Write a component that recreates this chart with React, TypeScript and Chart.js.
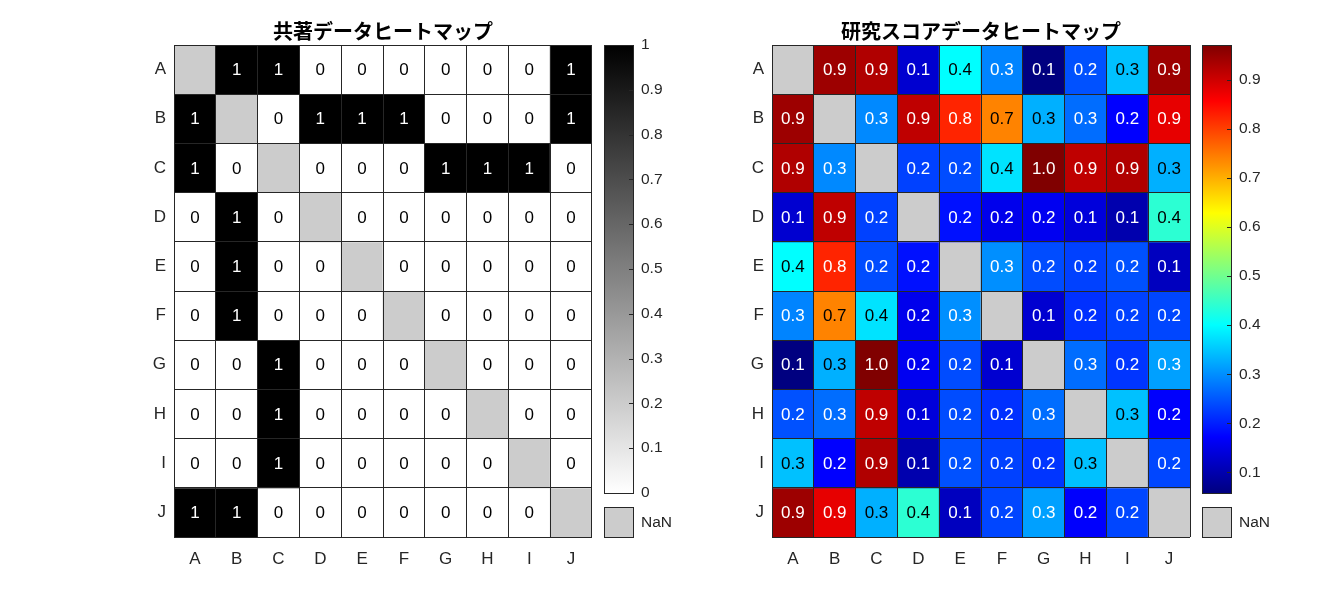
import React, { useEffect, useRef } from "react";
import { Chart, registerables } from "chart.js";

Chart.register(...registerables);

// ---------------- data ----------------
const categories = ["A", "B", "C", "D", "E", "F", "G", "H", "I", "J"];

const coauthorTitle = "共著データヒートマップ";
const coauthorRows: (number | null)[][] = [
  [null, 1, 1, 0, 0, 0, 0, 0, 0, 1],
  [1, null, 0, 1, 1, 1, 0, 0, 0, 1],
  [1, 0, null, 0, 0, 0, 1, 1, 1, 0],
  [0, 1, 0, null, 0, 0, 0, 0, 0, 0],
  [0, 1, 0, 0, null, 0, 0, 0, 0, 0],
  [0, 1, 0, 0, 0, null, 0, 0, 0, 0],
  [0, 0, 1, 0, 0, 0, null, 0, 0, 0],
  [0, 0, 1, 0, 0, 0, 0, null, 0, 0],
  [0, 0, 1, 0, 0, 0, 0, 0, null, 0],
  [1, 1, 0, 0, 0, 0, 0, 0, 0, null],
];
const coauthorTicks = [0, 0.1, 0.2, 0.3, 0.4, 0.5, 0.6, 0.7, 0.8, 0.9, 1];
const coauthorTickLabels = ["0", "0.1", "0.2", "0.3", "0.4", "0.5", "0.6", "0.7", "0.8", "0.9", "1"];

const scoreTitle = "研究スコアデータヒートマップ";
const scoreRows: (number | null)[][] = [
  [null, 0.945, 0.928, 0.13, 0.4, 0.29, 0.058, 0.245, 0.345, 0.945],
  [0.945, null, 0.295, 0.914, 0.825, 0.74, 0.33, 0.27, 0.172, 0.878],
  [0.928, 0.295, null, 0.23, 0.24, 0.375, 0.971, 0.914, 0.928, 0.33],
  [0.13, 0.914, 0.23, null, 0.186, 0.155, 0.16, 0.14, 0.1, 0.44],
  [0.4, 0.825, 0.24, 0.186, null, 0.3, 0.24, 0.23, 0.245, 0.115],
  [0.29, 0.74, 0.375, 0.155, 0.3, null, 0.13, 0.215, 0.23, 0.235],
  [0.058, 0.33, 0.971, 0.16, 0.24, 0.13, null, 0.27, 0.22, 0.315],
  [0.245, 0.27, 0.914, 0.14, 0.24, 0.215, 0.27, null, 0.345, 0.17],
  [0.345, 0.172, 0.928, 0.1, 0.245, 0.23, 0.22, 0.345, null, 0.235],
  [0.945, 0.878, 0.33, 0.44, 0.115, 0.235, 0.315, 0.17, 0.235, null],
];
const scoreTicks = [0.1, 0.2, 0.3, 0.4, 0.5, 0.6, 0.7, 0.8, 0.9];
const scoreTickLabels = ["0.1", "0.2", "0.3", "0.4", "0.5", "0.6", "0.7", "0.8", "0.9"];

// ---------------- style ----------------
const W = 1341;
const H = 603;
const PLOT_TOP = 45;
const PLOT_BOTTOM = 537;
const CB_BOTTOM = 493;
const NAN_TOP = 507;
const AXIS_W = 60;
const AXIS_H = 40;
const GRID = "#262626";
const TEXT = "#262626";
const NAN_COLOR = "#cccccc";
const FONT = "'Liberation Sans', Arial, Helvetica, sans-serif";
const TITLE_FONT = "'Noto Sans CJK JP', 'Noto Sans CJK SC', sans-serif";

type RGB = [number, number, number];

const clamp = (v: number) => Math.max(0, Math.min(1, v));
function jet(t: number): RGB {
  const r = clamp(Math.min(4 * t - 1.5, -4 * t + 4.5));
  const g = clamp(Math.min(4 * t - 0.5, -4 * t + 3.5));
  const b = clamp(Math.min(4 * t + 0.5, -4 * t + 2.5));
  return [r, g, b];
}
function grayRev(t: number): RGB {
  const v = 1 - clamp(t);
  return [v, v, v];
}
const css = (c: RGB) =>
  `rgb(${Math.round(c[0] * 255)},${Math.round(c[1] * 255)},${Math.round(c[2] * 255)})`;
const lum = (c: RGB) => 0.299 * c[0] + 0.587 * c[1] + 0.114 * c[2];

type PanelProps = {
  title: string;
  rows: (number | null)[][];
  cmap: (t: number) => RGB;
  vmin: number;
  vmax: number;
  fmt: (v: number) => string;
  plotLeft: number;
  plotRight: number;
  cbLeft: number;
  cbRight: number;
  ticks: number[];
  tickLabels: string[];
};

function HeatmapPanel(p: PanelProps) {
  const heatRef = useRef<HTMLCanvasElement>(null);
  const cbRef = useRef<HTMLCanvasElement>(null);

  useEffect(() => {
    const n = categories.length;
    const norm = (v: number) => (v - p.vmin) / (p.vmax - p.vmin);

    const datasets = p.rows.map((row, r) => ({
      label: categories[r],
      data: row.map(() => [r, r + 1]),
      backgroundColor: row.map((v) => (v === null ? NAN_COLOR : css(p.cmap(norm(v))))),
      borderWidth: 0,
      barPercentage: 1,
      categoryPercentage: 1,
      grouped: false,
    }));

    const textPlugin = {
      id: "heatText",
      afterDraw(chart: any) {
        const { ctx, chartArea, scales } = chart;
        const xs = scales.x;
        const ys = scales.y;
        ctx.save();
        ctx.font = `17px ${FONT}`;
        ctx.textAlign = "center";
        ctx.textBaseline = "middle";
        p.rows.forEach((row, r) =>
          row.forEach((v, c) => {
            if (v === null) return;
            const col = p.cmap(norm(v));
            ctx.fillStyle = lum(col) > 0.5 ? "#000000" : "#ffffff";
            ctx.fillText(p.fmt(v), xs.getPixelForValue(c), ys.getPixelForValue(r + 0.5) + 1);
          })
        );
        ctx.font = `bold 20px ${TITLE_FONT}`;
        ctx.fillStyle = "#000000";
        ctx.fillText(p.title, (chartArea.left + chartArea.right) / 2, 31);
        ctx.restore();
      },
    };

    const heat = new Chart(heatRef.current as HTMLCanvasElement, {
      type: "bar",
      data: { labels: categories, datasets: datasets as any },
      options: {
        responsive: false,
        animation: false,
        events: [],
        layout: {
          padding: {
            left: p.plotLeft - AXIS_W,
            right: W - p.plotRight,
            top: PLOT_TOP,
            bottom: H - PLOT_BOTTOM - AXIS_H,
          },
        },
        plugins: { legend: { display: false }, tooltip: { enabled: false }, title: { display: false } },
        scales: {
          x: {
            type: "category",
            offset: true,
            grid: { offset: true, color: GRID, lineWidth: 1, z: 1, drawTicks: false },
            border: { display: false },
            ticks: { font: { family: FONT, size: 17 }, color: TEXT, padding: 12, autoSkip: false, maxRotation: 0 },
            afterFit: (s: any) => {
              s.height = AXIS_H;
            },
          },
          y: {
            type: "linear",
            reverse: true,
            min: 0,
            max: n,
            ticks: { stepSize: 1, display: false },
            grid: { color: GRID, lineWidth: 1, z: 1, drawTicks: false },
            border: { display: false },
            afterFit: (s: any) => {
              s.width = 0;
            },
          },
          yl: {
            type: "category",
            labels: categories,
            position: "left",
            offset: true,
            grid: { display: false, drawTicks: false },
            border: { display: false },
            ticks: { font: { family: FONT, size: 17 }, color: TEXT, padding: 8, autoSkip: false },
            afterFit: (s: any) => {
              s.width = AXIS_W;
            },
          },
        } as any,
      },
      plugins: [textPlugin],
    });

    const gradient = (chart: any) => {
      const area = chart.chartArea;
      if (!area) return NAN_COLOR;
      const g = chart.ctx.createLinearGradient(0, area.bottom, 0, area.top);
      const steps = 64;
      for (let i = 0; i <= steps; i++) g.addColorStop(i / steps, css(p.cmap(i / steps)));
      return g;
    };

    const cbPlugin = {
      id: "cbExtras",
      afterDraw(chart: any) {
        const { ctx, chartArea, scales } = chart;
        const ys = scales.y;
        ctx.save();
        ctx.strokeStyle = GRID;
        ctx.lineWidth = 1;
        p.ticks.forEach((v) => {
          const y = Math.round(ys.getPixelForValue(v)) + 0.5;
          ctx.beginPath();
          ctx.moveTo(chartArea.right - 5, y);
          ctx.lineTo(chartArea.right, y);
          ctx.stroke();
        });
        ctx.strokeRect(
          Math.round(chartArea.left) + 0.5,
          Math.round(chartArea.top) + 0.5,
          Math.round(chartArea.right - chartArea.left) - 1,
          Math.round(chartArea.bottom - chartArea.top)
        );
        const nanH = PLOT_BOTTOM - NAN_TOP;
        ctx.fillStyle = NAN_COLOR;
        ctx.fillRect(chartArea.left, NAN_TOP, chartArea.right - chartArea.left, nanH);
        ctx.strokeRect(
          Math.round(chartArea.left) + 0.5,
          NAN_TOP + 0.5,
          Math.round(chartArea.right - chartArea.left) - 1,
          nanH
        );
        ctx.fillStyle = TEXT;
        ctx.font = `15.5px ${FONT}`;
        ctx.textAlign = "left";
        ctx.textBaseline = "middle";
        ctx.fillText("NaN", chartArea.right + 7, NAN_TOP + nanH / 2 + 1);
        ctx.restore();
      },
    };

    const cb = new Chart(cbRef.current as HTMLCanvasElement, {
      type: "bar",
      data: {
        labels: [""],
        datasets: [
          {
            data: [[p.vmin, p.vmax]] as any,
            backgroundColor: (c: any) => gradient(c.chart),
            borderWidth: 0,
            barPercentage: 1,
            categoryPercentage: 1,
          },
        ],
      },
      options: {
        responsive: false,
        animation: false,
        events: [],
        layout: {
          padding: {
            left: p.cbLeft,
            right: W - p.cbRight - AXIS_W,
            top: PLOT_TOP,
            bottom: H - CB_BOTTOM,
          },
        },
        plugins: { legend: { display: false }, tooltip: { enabled: false } },
        scales: {
          x: { display: false },
          y: {
            type: "linear",
            position: "right",
            min: p.vmin,
            max: p.vmax,
            afterBuildTicks: (s: any) => {
              s.ticks = p.ticks.map((v) => ({ value: v }));
            },
            ticks: {
              callback: (v: any) => {
                const i = p.ticks.findIndex((t) => Math.abs(t - Number(v)) < 1e-9);
                return i >= 0 ? p.tickLabels[i] : "";
              },
              font: { family: FONT, size: 15.5 },
              color: TEXT,
              padding: 7,
            },
            grid: { display: false, drawTicks: false },
            border: { display: false },
            afterFit: (s: any) => {
              s.width = AXIS_W;
            },
          },
        } as any,
      },
      plugins: [cbPlugin],
    });

    return () => {
      heat.destroy();
      cb.destroy();
    };
  }, []);

  const style: React.CSSProperties = { position: "absolute", left: 0, top: 0, width: W, height: H };
  return (
    <>
      <canvas ref={heatRef} width={W} height={H} style={style} />
      <canvas ref={cbRef} width={W} height={H} style={style} />
    </>
  );
}

const flatVals = (rows: (number | null)[][]) => rows.flat().filter((v): v is number => v !== null);

export default function App() {
  const sv = flatVals(scoreRows);
  const sMin = Math.min(...sv);
  const sMax = Math.max(...sv);
  return (
    <div style={{ position: "absolute", left: 0, top: 0, width: W, height: H, background: "#ffffff", overflow: "hidden" }}>
      <HeatmapPanel
        title={coauthorTitle}
        rows={coauthorRows}
        cmap={grayRev}
        vmin={0}
        vmax={1}
        fmt={(v) => String(Math.round(v))}
        plotLeft={174}
        plotRight={592}
        cbLeft={604}
        cbRight={634}
        ticks={coauthorTicks}
        tickLabels={coauthorTickLabels}
      />
      <HeatmapPanel
        title={scoreTitle}
        rows={scoreRows}
        cmap={jet}
        vmin={sMin}
        vmax={sMax}
        fmt={(v) => v.toFixed(1)}
        plotLeft={772}
        plotRight={1190}
        cbLeft={1202}
        cbRight={1232}
        ticks={scoreTicks}
        tickLabels={scoreTickLabels}
      />
    </div>
  );
}
